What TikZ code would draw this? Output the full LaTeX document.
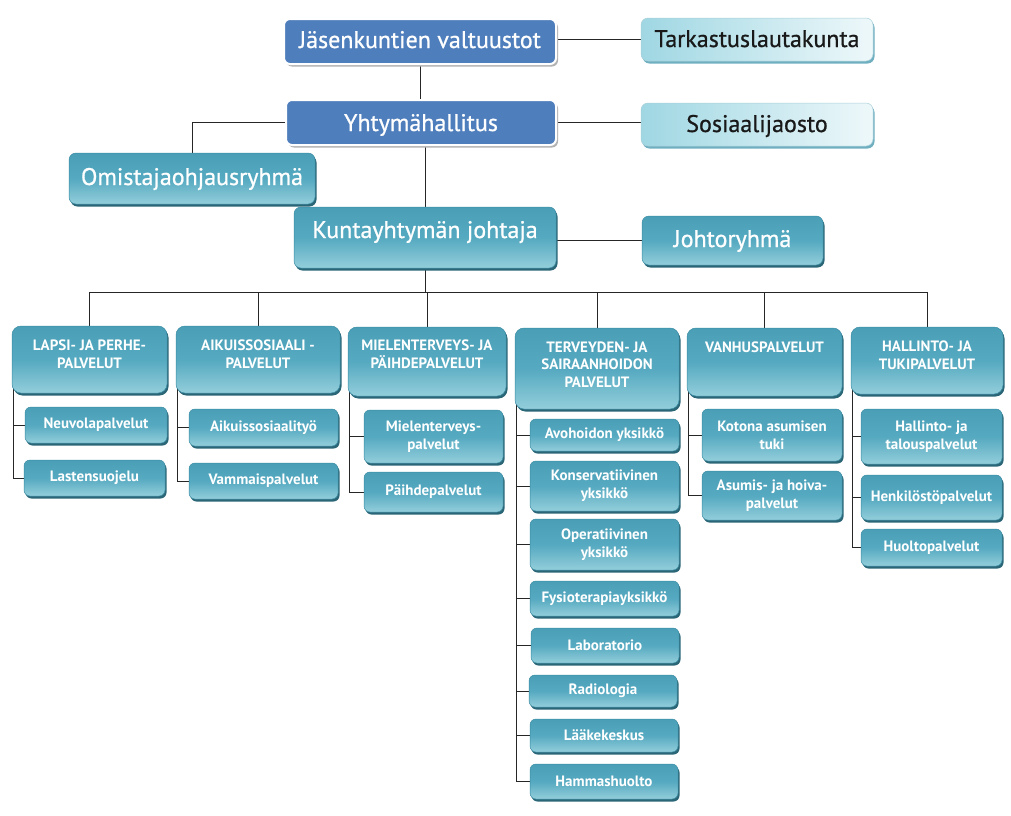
\documentclass[tikz,border=0pt]{standalone}
\usepackage{fontspec}
\setmainfont{PT Sans}
\newfontfamily\semib{PT Sans}[FakeBold=0.8]
\usetikzlibrary{shadows}
\definecolor{tealA}{HTML}{4A9FB7}
\definecolor{tealM}{HTML}{55A9C0}
\definecolor{tealB}{HTML}{93CEDB}
\definecolor{tealD}{HTML}{2B6677}
\definecolor{tealE}{HTML}{3B8CA3}
\definecolor{blueA}{HTML}{4F7EBC}
\definecolor{lightA}{HTML}{9FD7E3}
\definecolor{lightB}{HTML}{EEF8FA}
\definecolor{lightD}{HTML}{6FAFC0}
\pgfdeclarelayer{bg}
\pgfsetlayers{bg,main}
\tikzset{
  base/.style={anchor=north west, inner sep=0pt, outer sep=0pt},
  bluebox/.style={base, rounded corners=6pt, fill=blueA, draw=white, line width=2pt, text=white,
    font=\semib\fontsize{24}{26}\selectfont,
    drop shadow={shadow xshift=2pt, shadow yshift=-2.5pt, fill=black!30, opacity=1}},
  lightbox/.style={base, rounded corners=7pt, left color=lightA, right color=lightB, draw=lightD!60, line width=0.5pt,
    text=black!90, font=\semib\fontsize{24}{26}\selectfont,
    drop shadow={shadow xshift=1.5pt, shadow yshift=-2.5pt, fill=lightD, opacity=1}},
  tealbox/.style={base, rounded corners=7pt, top color=tealA, bottom color=tealB, middle color=tealM,
    draw=tealE, line width=0.5pt, text=white,
    drop shadow={shadow xshift=1.5pt, shadow yshift=-2.5pt, fill=tealD, opacity=1}},
  topbox/.style={tealbox, font=\semib\fontsize{24}{26}\selectfont},
  hdr/.style={tealbox, rounded corners=9pt, font=\bfseries\fontsize{15}{18}\selectfont},
  child/.style={tealbox, rounded corners=6pt, align=center, font=\bfseries\fontsize{15}{18}\selectfont},
  conn/.style={draw=black!85, line width=0.8pt},
}
\newcommand{\hdrtext}[2]{\parbox[t]{#1}{\centering #2}}
\begin{document}
\begin{tikzpicture}[x=1pt,y=-1pt]
\useasboundingbox (0,0) rectangle (1011,815);

% top levels
\node[bluebox, minimum width=272pt, text height=29pt, text depth=16pt] (jv) at (284,19) {Jäsenkuntien valtuustot};
\node[lightbox, minimum width=232pt, text height=29pt, text depth=14pt] (tk) at (641,18) {Tarkastuslautakunta};
\node[bluebox, minimum width=270pt, text height=31pt, text depth=14pt] (yh) at (286,100) {Yhtymähallitus};
\node[lightbox, minimum width=232pt, text height=29pt, text depth=14pt] (sj) at (641,103) {Sosiaalijaosto};
\node[topbox, minimum width=246pt, text height=32pt, text depth=19pt] (om) at (69,153) {Omistajaohjausryhmä};
\node[topbox, minimum width=262pt, text height=31pt, text depth=30pt] (kj) at (294,207) {Kuntayhtymän johtaja};
\node[topbox, minimum width=181pt, text height=31pt, text depth=18pt] (jr) at (642,216) {Johtoryhmä};

% level 2
\node[hdr, text height=24pt, text depth=43pt] (lapsi) at (12,326) {\hdrtext{155pt}{LAPSI- JA PERHE-\\PALVELUT}};
\node[hdr, text height=24pt, text depth=43pt] (aikuis) at (176,326) {\hdrtext{164pt}{AIKUISSOSIAALI -\\PALVELUT}};
\node[hdr, text height=23pt, text depth=46pt] (mielen) at (348,327) {\hdrtext{158pt}{MIELENTERVEYS- JA\\PÄIHDEPALVELUT}};
\node[hdr, text height=24pt, text depth=57pt] (terv) at (515,328) {\hdrtext{164pt}{\fontsize{15}{17.5}\selectfont TERVEYDEN- JA\\SAIRAANHOIDON\\PALVELUT}};
\node[hdr, text height=24pt, text depth=44pt] (vanhus) at (687,328) {\hdrtext{155pt}{VANHUSPALVELUT}};
\node[hdr, text height=24pt, text depth=43pt] (hall) at (851,327) {\hdrtext{152pt}{HALLINTO- JA\\TUKIPALVELUT}};

% children
\node[child, minimum width=142pt, minimum height=36pt] (neuvola) at (25,407) {Neuvolapalvelut};
\node[child, minimum width=141pt, minimum height=36pt] (lastens) at (24,460) {Lastensuojelu};
\node[child, minimum width=149pt, minimum height=37pt] (aikty) at (189,409) {Aikuissosiaalityö};
\node[child, minimum width=149pt, minimum height=36pt] (vammais) at (189,463) {Vammaispalvelut};
\node[child, minimum width=139pt, minimum height=53pt] (mtp) at (364,410) {Mielenterveys-\\palvelut};
\node[child, minimum width=139pt, minimum height=40pt] (paihde) at (364,472) {Päihdepalvelut};
\node[child, minimum width=149pt, minimum height=32pt] (avo) at (530,419) {Avohoidon yksikkö};
\node[child, minimum width=149pt, minimum height=50pt] (kons) at (530,461) {Konservatiivinen\\yksikkö};
\node[child, minimum width=149pt, minimum height=51pt] (oper) at (530,519) {Operatiivinen\\yksikkö};
\node[child, minimum width=149pt, minimum height=35pt] (fysio) at (530,581) {Fysioterapiayksikkö};
\node[child, minimum width=148pt, minimum height=35pt] (lab) at (531,628) {Laboratorio};
\node[child, minimum width=148pt, minimum height=32pt] (radio) at (529,675) {Radiologia};
\node[child, minimum width=148pt, minimum height=33pt] (laake) at (530,719) {Lääkekeskus};
\node[child, minimum width=148pt, minimum height=35pt] (hamma) at (530,764) {Hammashuolto};
\node[child, minimum width=140pt, minimum height=52pt] (kotona) at (702,409) {Kotona asumisen\\tuki};
\node[child, minimum width=140pt, minimum height=49pt] (asumis) at (702,471) {Asumis- ja hoiva-\\palvelut};
\node[child, minimum width=141pt, minimum height=55pt] (htp) at (861,409) {Hallinto- ja\\talouspalvelut};
\node[child, minimum width=141pt, minimum height=45pt] (henk) at (861,475) {Henkilöstöpalvelut};
\node[child, minimum width=141pt, minimum height=37pt] (huolto) at (861,529) {Huoltopalvelut};

\coordinate (bus) at (427,292);

\begin{pgfonlayer}{bg}
\draw[conn] (tk.west -| jv.east) -- (tk.west);
\draw[conn] (jv.south) -- (jv.south |- yh.north);
\draw[conn] (yh.east) -- (yh.east -| sj.west);
\draw[conn] (yh.west) -| (om.north);
\draw[conn] (kj.north) -- (kj.north |- yh.south);
\draw[conn] (jr.west -| kj.east) -- (jr.west);
\draw[conn] (kj.south) -- (kj.south |- bus);
\draw[conn] (lapsi.north) -- (lapsi.north |- bus) -- (hall.north |- bus) -- (hall.north);
\draw[conn] (aikuis.north |- bus) -- (aikuis.north);
\draw[conn] (mielen.north |- bus) -- (mielen.north);
\draw[conn] (terv.north |- bus) -- (terv.north);
\draw[conn] (vanhus.north |- bus) -- (vanhus.north);

\draw[conn] ([xshift=1pt,yshift=8pt]lapsi.south west) |- (lastens.west);
\draw[conn] ([xshift=1pt]lapsi.south west |- neuvola.west) -- (neuvola.west);
\draw[conn] ([xshift=1pt,yshift=8pt]aikuis.south west) |- (vammais.west);
\draw[conn] ([xshift=1pt]aikuis.south west |- aikty.west) -- (aikty.west);
\draw[conn] ([xshift=1pt,yshift=8pt]mielen.south west) |- (paihde.west);
\draw[conn] ([xshift=1pt]mielen.south west |- mtp.west) -- (mtp.west);
\draw[conn] ([xshift=1pt,yshift=8pt]terv.south west) |- (hamma.west);
\foreach \c in {avo,kons,oper,fysio,lab,radio,laake}
  \draw[conn] ([xshift=1pt]terv.south west |- \c.west) -- (\c.west);
\draw[conn] ([xshift=1pt,yshift=8pt]vanhus.south west) |- (asumis.west);
\draw[conn] ([xshift=1pt]vanhus.south west |- kotona.west) -- (kotona.west);
\draw[conn] ([xshift=1pt,yshift=8pt]hall.south west) |- (huolto.west);
\draw[conn] ([xshift=1pt]hall.south west |- htp.west) -- (htp.west);
\draw[conn] ([xshift=1pt]hall.south west |- henk.west) -- (henk.west);
\end{pgfonlayer}
\end{tikzpicture}
\end{document}
